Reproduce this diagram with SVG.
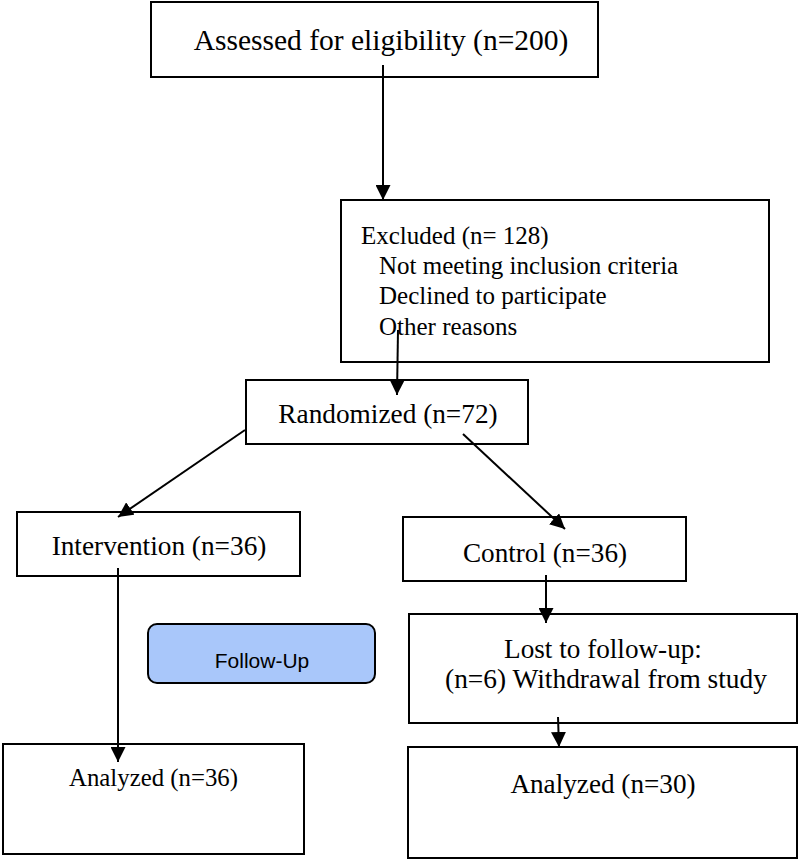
<svg xmlns="http://www.w3.org/2000/svg" width="800" height="860" viewBox="0 0 800 860">
<defs>
<marker id="ah" markerUnits="userSpaceOnUse" markerWidth="15" markerHeight="15" viewBox="0 0 15 15" refX="15" refY="7.5" orient="auto">
<path d="M0,0 L15,7.5 L0,15 Z" fill="#000"/>
</marker>
</defs>
<style>
.box{fill:#fff;stroke:#000;stroke-width:2}
.t{font-family:"Liberation Serif","Times New Roman",serif;fill:#000}
.c{stroke:#000;stroke-width:2;fill:none;marker-end:url(#ah)}
</style>
<rect width="800" height="860" fill="#fff"/>
<g id="assessed">
<rect class="box" x="151" y="2" width="447" height="75"/>
<text class="t" x="381" y="50" font-size="29.5" text-anchor="middle">Assessed for eligibility (n=200)</text>
</g>
<g id="excluded">
<rect class="box" x="341" y="200" width="428" height="162"/>
<text class="t" x="361" y="244" font-size="25">Excluded (n= 128)</text>
<text class="t" x="379" y="274" font-size="25">Not meeting inclusion criteria</text>
<text class="t" x="379" y="304" font-size="25">Declined to participate</text>
<text class="t" x="379" y="335" font-size="25">Other reasons</text>
</g>
<g id="randomized">
<rect class="box" x="246" y="380" width="282" height="64"/>
<text class="t" x="388" y="423" font-size="27.3" text-anchor="middle">Randomized (n=72)</text>
</g>
<g id="intervention">
<rect class="box" x="17" y="512" width="283" height="64"/>
<text class="t" x="159" y="555" font-size="27.3" text-anchor="middle">Intervention (n=36)</text>
</g>
<g id="control">
<rect class="box" x="403" y="517" width="283" height="64"/>
<text class="t" x="545" y="562" font-size="27.2" text-anchor="middle">Control (n=36)</text>
</g>
<g id="followup">
<rect x="148" y="624" width="227" height="59" rx="9" fill="#a9c7fa" stroke="#000" stroke-width="2"/>
<text x="262" y="668" font-family="Liberation Sans, Arial, sans-serif" font-size="21" text-anchor="middle" fill="#000">Follow-Up</text>
</g>
<g id="lost">
<rect class="box" x="409" y="614" width="388" height="109"/>
<text class="t" x="603" y="658" font-size="27.2" text-anchor="middle">Lost to follow-up:</text>
<text class="t" x="606" y="688" font-size="27.4" text-anchor="middle">(n=6) Withdrawal from study</text>
</g>
<g id="analyzed-left">
<rect class="box" x="3" y="744" width="301" height="110"/>
<text class="t" x="153.5" y="786" font-size="24.8" text-anchor="middle">Analyzed (n=36)</text>
</g>
<g id="analyzed-right">
<rect class="box" x="408" y="747" width="389" height="111"/>
<text class="t" x="603" y="793" font-size="27.2" text-anchor="middle">Analyzed (n=30)</text>
</g>
<g id="connectors">
<line class="c" x1="383" y1="65" x2="383" y2="200"/>
<line class="c" x1="398" y1="330" x2="397" y2="395"/>
<line class="c" x1="245" y1="430" x2="118" y2="517"/>
<line class="c" x1="463" y1="434" x2="565" y2="529"/>
<line class="c" x1="118" y1="568" x2="118" y2="762"/>
<line class="c" x1="546" y1="575" x2="546" y2="623"/>
<line class="c" x1="558" y1="717" x2="559" y2="747"/>
</g>
</svg>
